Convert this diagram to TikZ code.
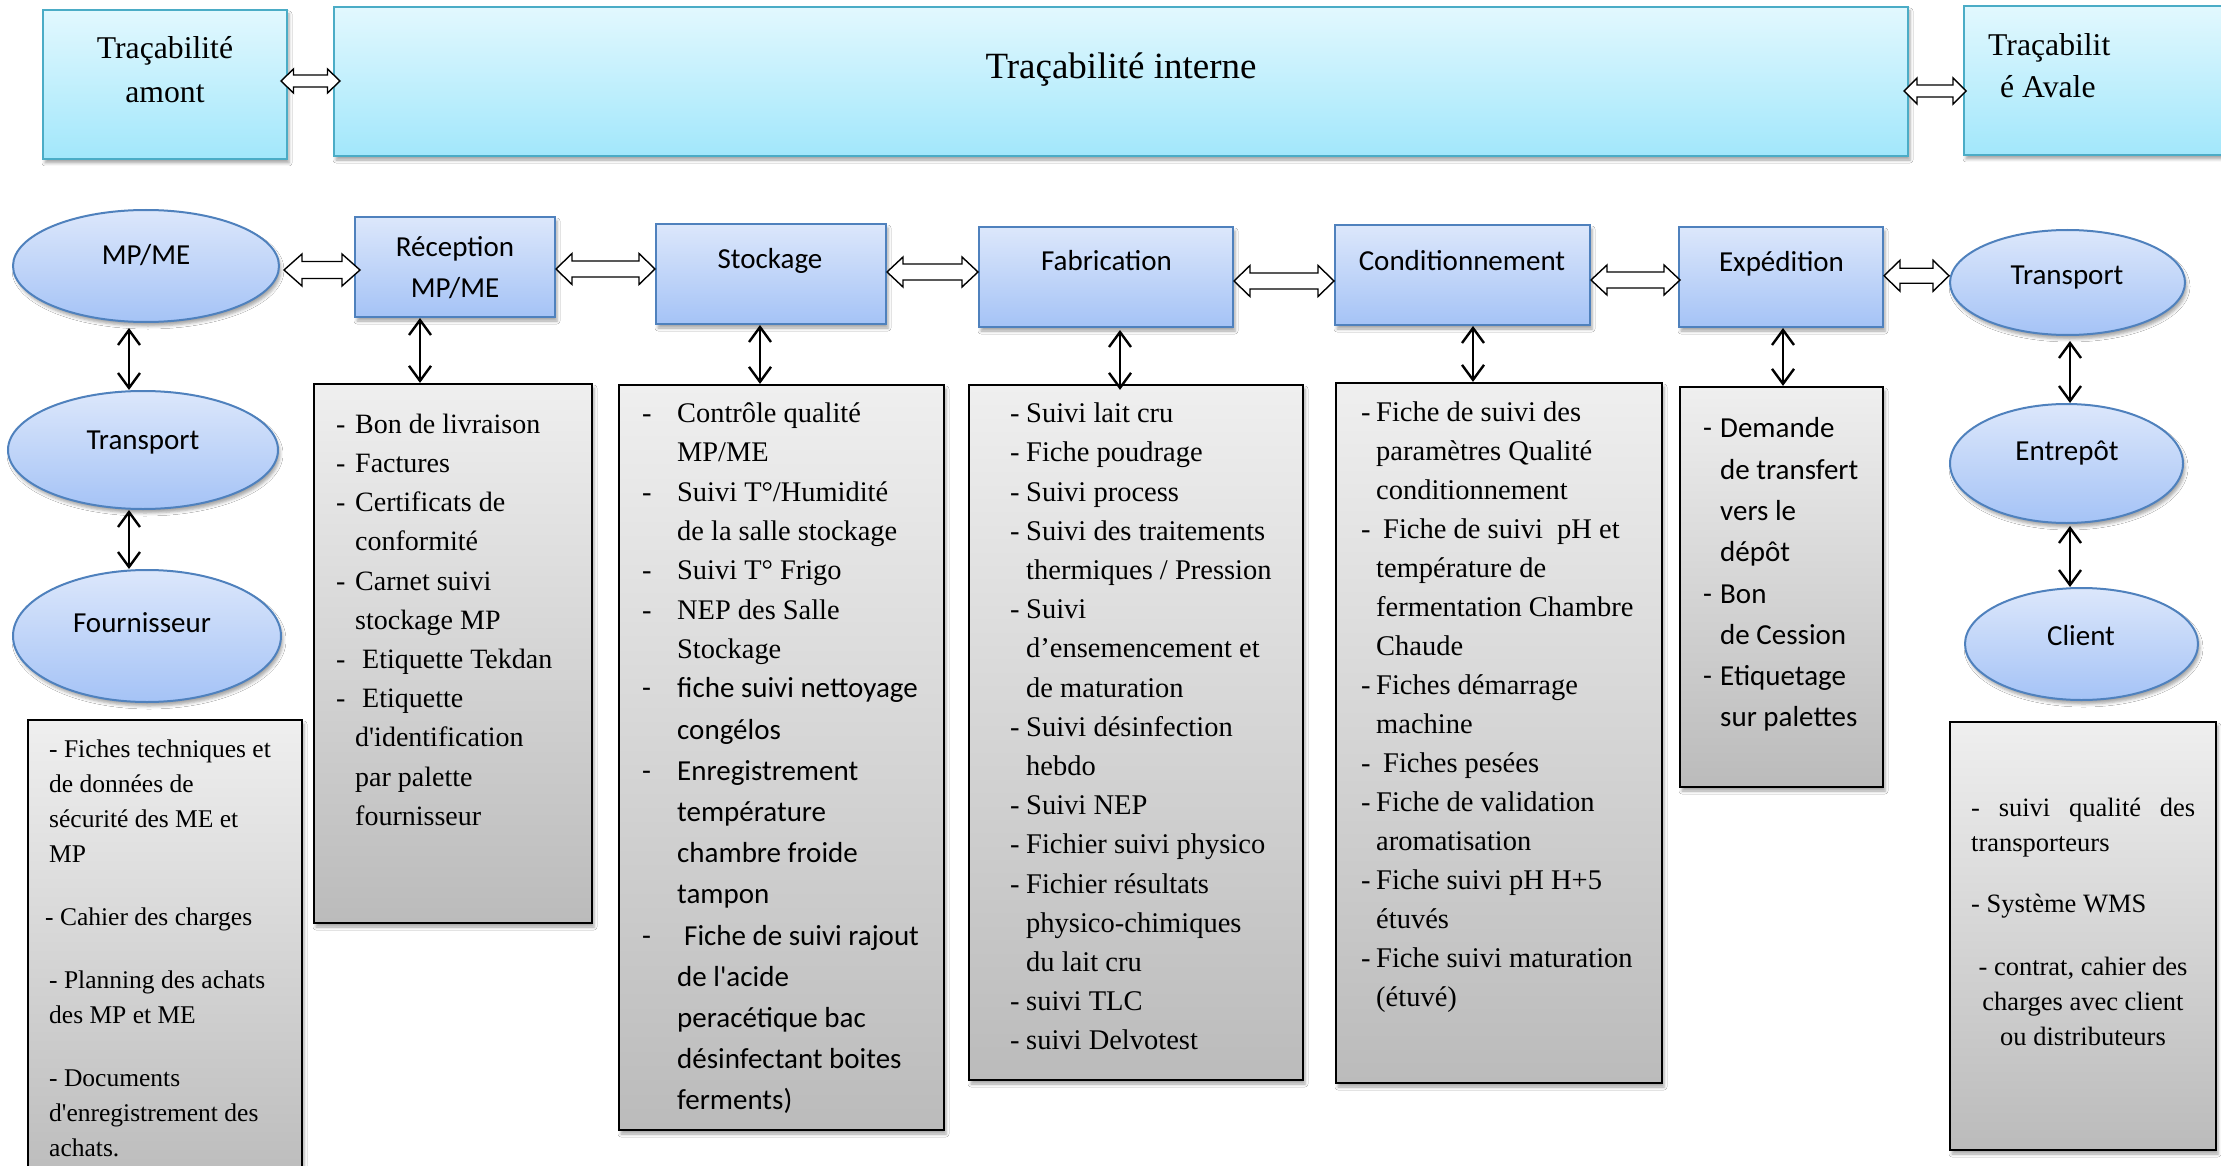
\documentclass[tikz,border=0pt]{standalone}
\usepackage{fontspec}
\setmainfont{Liberation Serif}[Ligatures=TeXOff]
\newfontfamily\calfont{Carlito}[Ligatures=TeXOff]
\usetikzlibrary{shapes.geometric,calc,shadows.blur,arrows.meta}

\definecolor{cyanTop}{HTML}{E2F8FE}
\definecolor{cyanBot}{HTML}{A2E7FB}
\definecolor{cyanLine}{HTML}{4BACC6}
\definecolor{blueTop}{HTML}{DCE7FB}
\definecolor{blueBot}{HTML}{A5C3F6}
\definecolor{blueLine}{HTML}{4F81BD}
\definecolor{grayTop}{HTML}{EFEFEF}
\definecolor{grayBot}{HTML}{BBBBBB}

% width of the "- " column in the lists
\newlength\dw
\newcommand\dsh{\makebox[\dw][l]{-}}
\newcommand\ind{\hspace*{\dw}}

% hollow double block arrow between two anchors
% #1 from, #2 to, #3 head length, #4 head half-height, #5 shaft half-height, #6 vertical offset
\newcommand\dblarrow[6]{%
  \draw[hollow] let \p1=(#1), \p2=(#2), \p3=($(#1)!0.5!(#2)+(0,#6)$) in
    (\x1,\y3) -- (\x1+#3,\y3+#4) -- (\x1+#3,\y3+#5) -- (\x2-#3,\y3+#5)
    -- (\x2-#3,\y3+#4) -- (\x2,\y3) -- (\x2-#3,\y3-#4) -- (\x2-#3,\y3-#5)
    -- (\x1+#3,\y3-#5) -- (\x1+#3,\y3-#4) -- cycle;}

\tikzset{
  softshadow/.style={blur shadow={shadow xshift=2pt, shadow yshift=-4pt,
      shadow blur radius=3pt, shadow opacity=35}},
  topbox/.style={draw=cyanLine, line width=2pt, top color=cyanTop,
      bottom color=cyanBot, inner sep=0pt, softshadow},
  procbox/.style={draw=blueLine, line width=2pt, top color=blueTop,
      bottom color=blueBot, inner sep=0pt, softshadow},
  oval/.style={procbox, ellipse},
  listbox/.style={draw=black, line width=2.2pt, top color=grayTop,
      bottom color=grayBot, inner sep=0pt, softshadow},
  hollow/.style={draw=black, line width=1.4pt, fill=white, line join=miter},
  varrow/.style={line width=2.4pt, <->, >={Straight Barb[length=15pt,width=22pt]}},
  ttl/.style={anchor=base, inner sep=0pt, font=\fontsize{31.7}{44}\selectfont},
  cal/.style={anchor=base, inner sep=0pt, font=\calfont\fontsize{29}{35}\selectfont},
  lst/.style={anchor=north west, inner sep=0pt, align=left},
}

\begin{document}
\begin{tikzpicture}[x=1pt,y=-1pt]
\useasboundingbox (0,0) rectangle (2221,1166);
\clip (0,0) rectangle (2221,1166);
\fill[white] (0,0) rectangle (2221,1166);

% ---------- top row ----------
\node[topbox, minimum width=244pt, minimum height=149pt] (amont) at (165,84.5) {};
\node[topbox, minimum width=1574pt, minimum height=149pt] (interne) at (1121,81.5) {};
\node[topbox, minimum width=300pt, minimum height=149pt] (avale) at (2114,80.5) {};
\node[ttl] (amont-a) at (165,58.5) {Traçabilité};
\node[ttl] (amont-b) at (165,102.5) {amont};
\node[ttl, font=\fontsize{37}{44}\selectfont] (interne-a) at (1121,79) {Traçabilité interne};
\node[ttl, anchor=base west] (avale-a) at (1988,56) {Traçabilit};
\node[ttl, anchor=base west] (avale-b) at (2000,98) {é Avale};

% ---------- process row ----------
\node[oval, minimum width=266pt, minimum height=112pt] (mpme) at (146,266) {};
\node[procbox, minimum width=200pt, minimum height=100pt] (rec) at (455,267) {};
\node[procbox, minimum width=230pt, minimum height=100pt] (stock) at (771,274) {};
\node[procbox, minimum width=254pt, minimum height=100pt] (fab) at (1106,277) {};
\node[procbox, minimum width=255pt, minimum height=100pt] (cond) at (1462.5,275) {};
\node[procbox, minimum width=204pt, minimum height=100pt] (exp) at (1781,277) {};
\node[oval, minimum width=235pt, minimum height=105pt] (trR) at (2067.5,282.5) {};

\node[cal] (mpme-t) at (146,265) {MP/ME};
\node[cal] (rec-a) at (455,257) {Réception};
\node[cal] (rec-b) at (455,298) {MP/ME};
\node[cal] (stock-t) at (770,269) {Stockage};
\node[cal] (fab-t) at (1106.5,271) {Fabrication};
\node[cal] (cond-t) at (1462,270) {Conditionnement};
\node[cal] (exp-t) at (1781.5,272) {Expédition};
\node[cal] (trR-t) at (2067,284) {Transport};

% ---------- upstream chain ----------
\node[oval, minimum width=270pt, minimum height=118pt] (trL) at (143,450) {};
\node[oval, minimum width=268pt, minimum height=132pt] (four) at (147,636) {};
\node[cal] (trL-t) at (143,449) {Transport};
\node[cal] (four-t) at (142,632) {Fournisseur};

% ---------- downstream chain ----------
\node[oval, minimum width=233pt, minimum height=119pt] (ent) at (2066.5,463.5) {};
\node[oval, minimum width=233pt, minimum height=112pt] (cli) at (2081.5,644) {};
\node[cal] (ent-t) at (2067,460) {Entrepôt};
\node[cal] (cli-t) at (2081,645) {Client};

% ---------- document lists ----------
\node[listbox, minimum width=274pt, minimum height=470pt] (lstF) at (165,955) {};
\node[listbox, minimum width=278pt, minimum height=539pt] (lstR) at (453,653.5) {};
\node[listbox, minimum width=325pt, minimum height=745pt] (lstS) at (781.5,757.5) {};
\node[listbox, minimum width=334pt, minimum height=695pt] (lstFab) at (1136,732.5) {};
\node[listbox, minimum width=326pt, minimum height=700pt] (lstC) at (1499,733) {};
\node[listbox, minimum width=203pt, minimum height=400pt] (lstE) at (1781.5,587) {};
\node[listbox, minimum width=266pt, minimum height=428pt] (lstT) at (2083,936) {};

\node[lst, font=\fontsize{25.5}{35}\selectfont] (lstF-t) at (49,732.9) {%
  \strut- Fiches techniques et\\
  de données de\\
  sécurité des ME et\\
  MP\\[28pt]
  \hspace*{-4pt}- Cahier des charges\\[28pt]
  - Planning des achats\\
  des MP et ME\\[28pt]
  - Documents\\
  d'enregistrement des\\
  achats.};

\node[lst, font=\fontsize{28}{39.2}\selectfont\setlength\dw{19pt}] (lstR-t) at (336,405.7) {%
  \strut\dsh Bon de livraison\\
  \dsh Factures\\
  \dsh Certificats de\\
  \ind conformité\\
  \dsh Carnet suivi\\
  \ind stockage MP\\
  \dsh\hspace{7pt}Etiquette Tekdan\\
  \dsh\hspace{7pt}Etiquette\\
  \ind d'identification\\
  \ind par palette\\
  \ind fournisseur};

\node[lst, font=\fontsize{28.4}{39.3}\selectfont\setlength\dw{35pt}] (lstS-a) at (642,394.9) {%
  \strut\dsh Contrôle qualité\\
  \ind MP/ME\\
  \dsh Suivi T°/Humidité\\
  \ind de la salle stockage\\
  \dsh Suivi T° Frigo\\
  \dsh NEP des Salle\\
  \ind Stockage};
\node[lst, font=\calfont\fontsize{29}{41.2}\selectfont\setlength\dw{35pt}] (lstS-b) at (642,668.8) {%
  \strut\dsh fiche suivi nettoyage\\
  \ind congélos\\
  \dsh Enregistrement\\
  \ind température\\
  \ind chambre froide\\
  \ind tampon\\
  \dsh\hspace{7pt}Fiche de suivi rajout\\
  \ind de l'acide\\
  \ind peracétique bac\\
  \ind désinfectant boites\\
  \ind ferments)};

\node[lst, font=\fontsize{28.5}{39.2}\selectfont\setlength\dw{16pt}] (lstFab-t) at (1010,395) {%
  \strut\dsh Suivi lait cru\\
  \dsh Fiche poudrage\\
  \dsh Suivi process\\
  \dsh Suivi des traitements\\
  \ind thermiques / Pression\\
  \dsh Suivi\\
  \ind d’ensemencement et\\
  \ind de maturation\\
  \dsh Suivi désinfection\\
  \ind hebdo\\
  \dsh Suivi NEP\\
  \dsh Fichier suivi physico\\
  \dsh Fichier résultats\\
  \ind physico-chimiques\\
  \ind du lait cru\\
  \dsh suivi TLC\\
  \dsh suivi Delvotest};

\node[lst, font=\fontsize{28.5}{39}\selectfont\setlength\dw{15pt}] (lstC-t) at (1361,394) {%
  \strut\dsh Fiche de suivi des\\
  \ind paramètres Qualité\\
  \ind conditionnement\\
  \dsh\hspace{7pt}Fiche de suivi\hspace{7pt} pH et\\
  \ind température de\\
  \ind fermentation Chambre\\
  \ind Chaude\\
  \dsh Fiches démarrage\\
  \ind machine\\
  \dsh\hspace{7pt}Fiches pesées\\
  \dsh Fiche de validation\\
  \ind aromatisation\\
  \dsh Fiche suivi pH H+5\\
  \ind étuvés\\
  \dsh Fiche suivi maturation\\
  \ind (étuvé)};

\node[lst, font=\calfont\fontsize{29}{41.3}\selectfont\setlength\dw{17pt}] (lstE-t) at (1703,408.7) {%
  \strut\dsh Demande\\
  \ind de transfert\\
  \ind vers le\\
  \ind dépôt\\
  \dsh Bon\\
  \ind de Cession\\
  \dsh Etiquetage\\
  \ind sur palettes};

\node[lst, font=\fontsize{26.5}{35}\selectfont] (lstT-a) at (1971,792.2) {%
  \strut\makebox[224pt][s]{- suivi qualité des}\\
  transporteurs\\[26pt]
  - Système WMS};
\node[anchor=north, inner sep=0pt, align=center, font=\fontsize{26.5}{35}\selectfont] (lstT-b) at (2083,951.2) {%
  \strut- contrat, cahier des\\
  charges avec client\\
  ou distributeurs};

% ---------- block arrows ----------
\dblarrow{[xshift=-7pt]amont.east}{[xshift=7pt]interne.west}{12.5pt}{12pt}{6pt}{-2}
\dblarrow{[xshift=-5pt]interne.east}{[xshift=3pt]avale.west}{13pt}{13pt}{6pt}{10}
\dblarrow{[xshift=4pt]mpme.east}{[xshift=6pt]rec.west}{18pt}{16pt}{8.5pt}{3.5}
\dblarrow{rec.east}{stock.west}{16pt}{15.5pt}{8pt}{-1.5}
\dblarrow{stock.east}{fab.west}{16pt}{15pt}{8pt}{-3.5}
\dblarrow{fab.east}{cond.west}{16pt}{15.5pt}{8pt}{5}
\dblarrow{cond.east}{[xshift=2pt]exp.west}{16pt}{15pt}{8pt}{4}
\dblarrow{exp.east}{trR.west}{16pt}{15.5pt}{7.5pt}{-4}

% ---------- vertical links ----------
\draw[varrow] ([xshift=-17pt,yshift=-5pt]mpme.south) -- ([xshift=-17pt]mpme.south |- trL.north);
\draw[varrow] ([xshift=-14pt]trL.south) -- ([xshift=-14pt]trL.south |- four.north);
\draw[varrow] ([xshift=-35pt]rec.south) -- ([xshift=-35pt]rec.south |- lstR.north);
\draw[varrow] ([xshift=-11pt]stock.south) -- ([xshift=-11pt]stock.south |- lstS.north);
\draw[varrow] ([xshift=14pt,yshift=-2pt]fab.south) -- ([xshift=14pt,yshift=-6pt]fab.south |- lstFab.north);
\draw[varrow] ([xshift=10.5pt]cond.south) -- ([xshift=10.5pt]cond.south |- lstC.north);
\draw[varrow] ([xshift=2pt]exp.south) -- ([xshift=2pt]exp.south |- lstE.north);
\draw[varrow] ([xshift=2.5pt,yshift=-5pt]trR.south) -- ([xshift=2.5pt]trR.south |- ent.north);
\draw[varrow] ([xshift=3.5pt,yshift=-2pt]ent.south) -- ([xshift=3.5pt]ent.south |- cli.north);
\end{tikzpicture}
\end{document}
